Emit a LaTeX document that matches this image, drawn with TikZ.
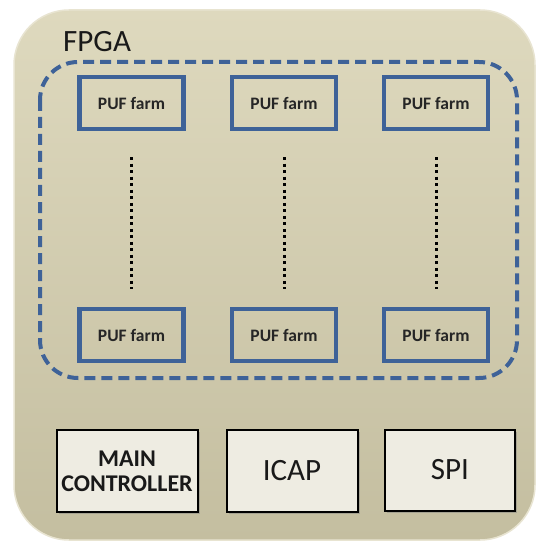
\documentclass[tikz,border=0pt]{standalone}
\usepackage{fontspec}
\setmainfont{Carlito}
\usetikzlibrary{shadows}
\definecolor{boardA}{RGB}{222,217,190}
\definecolor{boardB}{RGB}{196,190,160}
\definecolor{pufblue}{RGB}{62,98,152}
\definecolor{ioface}{RGB}{238,236,226}
\tikzset{
  board/.style={rounded corners=55pt, top color=boardA, bottom color=boardB, draw=boardA!70!white, line width=1.5pt},
  region/.style={rounded corners=38pt, draw=pufblue, line width=4pt, dash pattern=on 11pt off 6pt},
  pufbox/.style={draw=pufblue, line width=4.5pt, fill=none, minimum width=104pt, minimum height=52pt, font=\bfseries\fontsize{17.5}{20}\selectfont, text=black!85},
  iobox/.style={draw=black, line width=2pt, fill=ioface, text=black!90, drop shadow={shadow xshift=2pt, shadow yshift=-2pt, opacity=0.45}},
  chain/.style={line width=3pt, dash pattern=on 3pt off 3.5pt, black},
}
\begin{document}
\begin{tikzpicture}[x=1pt,y=-1pt]
\useasboundingbox (0,0) rectangle (537,545);
\fill[white] (0,0) rectangle (537,545);
% FPGA body
\path[board] (14,10) rectangle (535,540);
\node[anchor=base west, font=\fontsize{31}{34}\selectfont, inner sep=0, text=black!90] (fpga) at (63,52) {FPGA};
% dashed region holding the PUF farms
\path[region] (40,62) rectangle (517,378);
% PUF farms
\foreach \c/\x in {a/131.5, b/284, c/436}{
  \node[pufbox] (top\c) at (\x,103) {PUF farm};
  \node[pufbox] (bot\c) at (\x,335) {PUF farm};
  \draw[chain] ([yshift=-26pt]top\c.south) -- ([yshift=18pt]bot\c.north);
}
% interface blocks
\node[iobox, minimum width=141pt, minimum height=82pt, font=\bfseries\fontsize{24}{25}\selectfont, align=center] (ctrl) at (127,471) {MAIN\\CONTROLLER};
\node[iobox, minimum width=131pt, minimum height=82pt, font=\fontsize{31}{34}\selectfont] (icap) at (292,471) {ICAP};
\node[iobox, minimum width=130pt, minimum height=81pt, font=\fontsize{31}{34}\selectfont] (spi) at (450,470) {SPI};
\end{tikzpicture}
\end{document}
